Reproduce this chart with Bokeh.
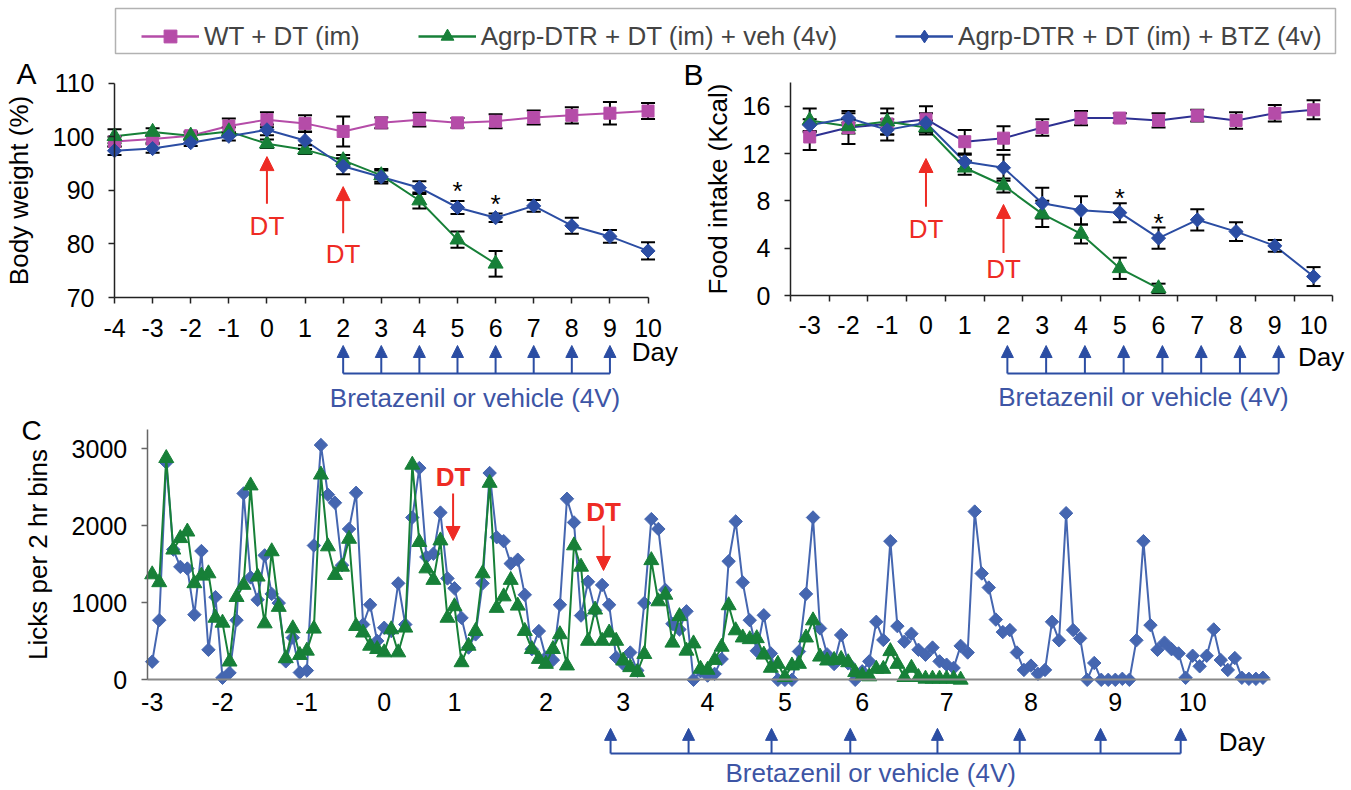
import numpy as np
from bokeh.plotting import figure
from bokeh.layouts import column, row
from bokeh.models import (Range1d, FixedTicker, Arrow, NormalHead, ColumnDataSource,
                          Legend, LegendItem, BoxAnnotation)
from bokeh.core.properties import value
from bokeh.embed import file_html
from bokeh.resources import INLINE

# ---------------- data ----------------
legend_labels = ["WT + DT (im)", "Agrp-DTR + DT (im) + veh (4v)", "Agrp-DTR + DT (im) + BTZ (4v)"]

# Panel A : body weight (%)
days_a = list(range(-4, 11))
bw_wt = [99.1, 99.6, 100.2, 102.0, 103.2, 102.5, 101.0, 102.6, 103.2, 102.6, 102.9, 103.6, 104.0, 104.4, 104.8]
bw_wt_err = [0.9, 0.7, 0.8, 1.4, 1.4, 1.5, 2.8, 1.0, 1.3, 0.9, 1.3, 1.3, 1.5, 2.1, 1.5]
days_a_veh = list(range(-4, 7))
bw_veh = [100.1, 100.9, 100.2, 101.0, 98.7, 97.6, 95.6, 92.8, 88.1, 80.8, 76.3]
bw_veh_err = [1.3, 0.7, 0.6, 0.8, 0.8, 0.8, 1.0, 1.2, 1.5, 1.5, 2.4]
bw_btz = [97.4, 97.8, 98.9, 100.1, 101.3, 99.3, 94.5, 92.5, 90.5, 86.8, 84.9, 87.1, 83.4, 81.4, 78.7]
bw_btz_err = [0.8, 0.8, 0.6, 0.8, 1.0, 1.6, 1.5, 1.2, 1.2, 1.2, 0.8, 1.1, 1.5, 1.2, 1.6]

# Panel B : food intake (Kcal)
days_b = list(range(-3, 11))
fi_wt = [13.4, 14.2, 14.5, 14.9, 13.0, 13.3, 14.2, 15.0, 15.0, 14.8, 15.2, 14.8, 15.4, 15.7]
fi_wt_err = [1.1, 1.4, 0.9, 1.1, 1.0, 1.0, 0.7, 0.6, 0.4, 0.6, 0.5, 0.7, 0.7, 0.8]
days_b_veh = list(range(-3, 7))
fi_veh = [14.8, 14.3, 14.7, 14.2, 10.8, 9.3, 6.9, 5.2, 2.3, 0.6]
fi_veh_err = [1.0, 0.6, 1.1, 0.6, 0.6, 0.6, 1.1, 0.8, 0.9, 0.4]
fi_btz = [14.4, 15.0, 14.0, 14.6, 11.3, 10.8, 7.8, 7.2, 7.0, 4.85, 6.4, 5.4, 4.2, 1.6]
fi_btz_err = [0.5, 0.4, 0.9, 0.8, 0.6, 1.1, 1.3, 1.2, 0.8, 0.9, 0.9, 0.8, 0.5, 0.8]

dt_days = [0, 2]
inject_days = [2, 3, 4, 5, 6, 7, 8, 9]
sig_days = [5, 6]

# Panel C : licks per 2 hr bin (consecutive bins)
licks_btz = [235, 773, 2818, 1690, 1465, 1443, 845, 1670, 389, 1072, 26, 90, 773, 2417, 1328,
             1038, 1614, 1114, 995, 239, 547, 94, 120, 1742, 3045,
             2400, 2296, 1486, 1956, 2425, 717, 973, 504, 675, 632, 1251, 717, 2105, 2746, 1593,
             1635, 2169, 1315, 1187, 803, 418, 589, 1251, 2682, 1849, 1798, 1507, 1558,
             1102, 397, 632, 290, 256, 973, 2348, 2041, 833, 1272, 900, 1230, 973, 290, 205,
             354, 120, 995, 2084, 1956, 1166, 726, 653, 888, 0,
             110, 55, 77, 269, 1537, 2054, 1264, 773, 376, 837, 342, 0, 0, 0, 367, 1114, 2105,
             666, 330, 205, 581, 213, 0, 110, 239, 752, 517,
             1798, 696, 495, 598, 389, 325, 418, 239, 196, 154, 440,
             354, 2182, 1379, 1196, 781, 619, 645, 354, 128, 184, 77, 128, 752, 512, 2161, 645,
             538, 0, 218, 0, 0, 0, 13, 0, 512, 1798, 709, 389, 482, 397, 342, 26, 312, 175, 312,
             653, 256, 128, 282, 26, 13, 13, 26]
licks_veh = [1366, 1264, 2874, 1687, 1836, 1921, 1251, 1349, 1379, 803, 739, 235, 1072, 1230,
             2519, 1337, 730, 1665, 944, 278, 666, 320, 376, 662, 2660,
             1729, 1358, 1465, 1827, 696, 611, 440, 397, 354, 653, 354, 675, 2788, 1785, 1443,
             1294, 1806, 803, 952, 226, 440, 632, 1379, 2553, 931, 1080, 1294, 960,
             632, 397, 269, 205, 397, 589, 184, 1742, 1465, 504, 909, 504, 611, 504, 248, 162,
             98, 333, 1550, 1016, 1102, 480, 824, 376, 470,
             141, 128, 256, 427, 965, 640, 547, 525, 538, 325, 154, 205, 34, 184, 205, 547, 769,
             299, 248, 256, 269, 226, 98, 55, 43, 141, 140,
             370, 205, 34, 154, 34, 13, 13, 13, 13, 13, 0]
c_day_labels = [-3, -2, -1, 0, 1, 2, 3, 4, 5, 6, 7, 8, 9, 10]
c_day_bins = [0, 10, 22, 33, 43, 56, 67, 79, 90, 101, 113, 125, 137, 148]
c_dt_bins = [42.8, 64.2]
c_inject_bins = [65.2, 76.3, 88.1, 99.3, 111.7, 123.4, 134.9, 146.3]

# ---------------- style ----------------
FONT = "Liberation Sans"
MAG = "#B54CA8"
GREEN = "#178038"
BLUE = "#2B4DA3"
BLUE_C = "#4566B0"
NAVY = "#2E3192"
RED = "#EE2B24"
BTZ_TXT = "#3D55A5"


def lin_range(v0, p0, ppu, lo, hi):
    return (v0 + (lo - p0) / ppu, v0 + (hi - p0) / ppu)


def inv_range(v0, p0, ppu, lo, hi):
    return (v0 - (hi - p0) / ppu, v0 - (lo - p0) / ppu)


def base_fig(w, h, xr, yr):
    p = figure(width=w, height=h, x_range=Range1d(*xr), y_range=Range1d(*yr),
               output_backend="svg", toolbar_location=None, min_border=0)
    p.xgrid.visible = False
    p.ygrid.visible = False
    p.outline_line_color = None
    for ax in p.axis:
        ax.major_label_text_font = FONT
        ax.major_label_text_font_size = "25px"
        ax.major_label_text_color = "black"
        ax.axis_label_text_font = FONT
        ax.axis_label_text_font_size = "26px"
        ax.axis_label_text_font_style = "normal"
        ax.axis_label_text_color = "black"
        ax.minor_tick_line_color = None
        ax.major_tick_in = 0
        ax.major_tick_out = 6
        ax.axis_line_width = 1.5
        ax.major_tick_line_width = 1.5
        ax.axis_line_color = "#222222"
        ax.major_tick_line_color = "#222222"
    return p


def txt(p, x, y, t, size="26px", color="black", align="center", baseline="middle", style="normal"):
    p.text(x=[x], y=[y], text=[t], text_font=value(FONT), text_font_size=size,
           text_color=color, text_align=align, text_baseline=baseline, text_font_style=style)


def errbars(p, x, y, e):
    lo = [a - b for a, b in zip(y, e)]
    hi = [a + b for a, b in zip(y, e)]
    p.segment(x0=x, y0=lo, x1=x, y1=hi, line_color="black", line_width=2)
    p.scatter(x=x, y=hi, marker="dash", size=14, line_color="black", line_width=2)
    p.scatter(x=x, y=lo, marker="dash", size=14, line_color="black", line_width=2)


def markers(p, x, y, kind, color, size):
    if kind == "diamond":
        return p.scatter(x=x, y=y, marker="square", angle=np.pi / 4, size=size,
                         fill_color=color, line_color=color)
    return p.scatter(x=x, y=y, marker=kind, size=size, fill_color=color, line_color=color)


def up_arrows(p, xs, y0, y1, color, size, width=2):
    src = ColumnDataSource(dict(x=list(xs), y0=[y0] * len(xs), y1=[y1] * len(xs)))
    p.add_layout(Arrow(end=NormalHead(size=size, fill_color=color, line_color=color, line_width=1),
                       x_start="x", y_start="y0", x_end="x", y_end="y1", source=src,
                       line_color=color, line_width=width))


W = 1351
H_LEG, H_AB, H_C = 56, 356, 378
X_SPLIT = 678

# ---------------- legend strip ----------------
pl = figure(width=W, height=H_LEG, x_range=Range1d(0, W), y_range=Range1d(0, H_LEG),
            output_backend="svg", toolbar_location=None, min_border=0,
            x_axis_type=None, y_axis_type=None)
pl.xgrid.visible = False
pl.ygrid.visible = False
pl.outline_line_color = None
items = []
nan = [float("nan")]
for lab, col, mk, sz in zip(legend_labels, [MAG, GREEN, BLUE], ["square", "triangle", "diamond"], [12, 14, 16]):
    rl = pl.line(x=nan, y=nan, line_color=col, line_width=2.5)
    rs = pl.scatter(x=nan, y=nan, marker=mk, size=sz, fill_color=col, line_color=col)
    items.append(LegendItem(label=lab, renderers=[rl, rs]))
leg = Legend(items=items, orientation="horizontal", location=(141, 4), padding=4, spacing=58,
             glyph_width=58, glyph_height=32, label_standoff=5, label_text_font=FONT,
             label_text_font_size="26px", border_line_color=None, background_fill_alpha=0, margin=0)
pl.add_layout(leg)
pl.add_layout(BoxAnnotation(left=115, right=1335, bottom=H_LEG - 53, top=H_LEG - 8,
                            fill_color=None, fill_alpha=0, line_color="black", line_width=1.5))

# ---------------- panel A ----------------
top_ab = H_LEG
bot_ab = H_LEG + H_AB
pa = base_fig(X_SPLIT, H_AB, lin_range(-4, 114, 38.11, 0, X_SPLIT),
              inv_range(110, 82.7, 5.358, top_ab, bot_ab))
ya = pa.yaxis[0]
ya.fixed_location = -4
ya.bounds = (70, 110)
ya.ticker = FixedTicker(ticks=[70, 80, 90, 100, 110])
ya.major_label_standoff = 14
ya.axis_label = "Body weight (%)"
ya.axis_label_standoff = 16
xa = pa.xaxis[0]
xa.fixed_location = 70
xa.bounds = (-4, 10)
xa.ticker = FixedTicker(ticks=days_a)
xa.major_label_overrides = {d: str(d) for d in days_a}
xa.major_label_standoff = 15

pa.line(days_a, bw_wt, line_color=MAG, line_width=2)
pa.line(days_a_veh, bw_veh, line_color=GREEN, line_width=2)
pa.line(days_a, bw_btz, line_color=BLUE, line_width=2)
errbars(pa, days_a, bw_wt, bw_wt_err)
errbars(pa, days_a_veh, bw_veh, bw_veh_err)
errbars(pa, days_a, bw_btz, bw_btz_err)
markers(pa, days_a, bw_wt, "square", MAG, 12)
markers(pa, days_a_veh, bw_veh, "triangle", GREEN, 15)
markers(pa, days_a, bw_btz, "diamond", BLUE, 10)

for d in sig_days:
    i = days_a.index(d)
    txt(pa, d, bw_btz[i] + bw_btz_err[i] + 1.8, "*")

up_arrows(pa, [dt_days[0]], 87.5, 96.3, RED, 14)
up_arrows(pa, [dt_days[1]], 82.0, 90.7, RED, 14)
txt(pa, dt_days[0], 83.3, "DT", color=RED)
txt(pa, dt_days[1], 78.2, "DT", color=RED)

up_arrows(pa, inject_days, 55.8, 61.05, BLUE, 12)
pa.line([min(inject_days), max(inject_days)], [55.8, 55.8], line_color=BLUE, line_width=2)
txt(pa, 5.46, 51.3, "Bretazenil or vehicle (4V)", color=BTZ_TXT)
txt(pa, 9.57, 59.9, "Day", align="left")
txt(pa, -6.31, 111.8, "A", size="30px")

# ---------------- panel B ----------------
pb = base_fig(W - X_SPLIT, H_AB, lin_range(-3, 809.2, 38.76, X_SPLIT, W),
              inv_range(0, 295, 11.83, top_ab, bot_ab))
yb = pb.yaxis[0]
yb.fixed_location = -3.5
yb.bounds = (0, 18)
yb.ticker = FixedTicker(ticks=[0, 4, 8, 12, 16])
yb.major_label_standoff = 14
yb.axis_label = "Food intake (Kcal)"
yb.axis_label_standoff = 7
xb = pb.xaxis[0]
xb.fixed_location = 0
xb.bounds = (-3.5, 10.5)
xb.ticker = FixedTicker(ticks=days_b, minor_ticks=[d - 0.5 for d in days_b] + [days_b[-1] + 0.5])
xb.major_label_overrides = {d: str(d) for d in days_b}
xb.major_tick_out = 0
xb.minor_tick_out = 6
xb.minor_tick_in = 0
xb.minor_tick_line_color = "#222222"
xb.minor_tick_line_width = 1.5
xb.major_label_standoff = 14

pb.line(days_b, fi_wt, line_color=NAVY, line_width=2)
pb.line(days_b_veh, fi_veh, line_color=GREEN, line_width=2)
pb.line(days_b, fi_btz, line_color=BLUE, line_width=2)
errbars(pb, days_b, fi_wt, fi_wt_err)
errbars(pb, days_b_veh, fi_veh, fi_veh_err)
errbars(pb, days_b, fi_btz, fi_btz_err)
markers(pb, days_b, fi_wt, "square", MAG, 12)
markers(pb, days_b_veh, fi_veh, "triangle", GREEN, 15)
markers(pb, days_b, fi_btz, "diamond", BLUE, 10)

for d in sig_days:
    i = days_b.index(d)
    txt(pb, d, fi_btz[i] + fi_btz_err[i] + 0.4, "*")

up_arrows(pb, [dt_days[0]], 7.5, 11.58, RED, 14)
up_arrows(pb, [dt_days[1]], 3.6, 7.7, RED, 14)
txt(pb, dt_days[0], 5.66, "DT", color=RED)
txt(pb, dt_days[1], 2.28, "DT", color=RED)

inj_b = [d + 0.1 for d in inject_days]
up_arrows(pb, inj_b, -6.59, -4.23, BLUE, 12)
pb.line([min(inj_b), max(inj_b)], [-6.59, -6.59], line_color=BLUE, line_width=2)
txt(pb, 5.61, -8.62, "Bretazenil or vehicle (4V)", color=BTZ_TXT)
txt(pb, 9.6, -5.16, "Day", align="left")
txt(pb, -6.0, 18.68, "B", size="30px")

# ---------------- panel C ----------------
top_c = bot_ab
pc = base_fig(W, H_C, lin_range(0, 151.7, 7.03, 0, W), inv_range(0, 679.3, 0.0771, top_c, top_c + H_C))
yc = pc.yaxis[0]
yc.fixed_location = -0.71
yc.bounds = (0, 3250)
yc.ticker = FixedTicker(ticks=[0, 1000, 2000, 3000])
yc.major_label_standoff = 14
yc.axis_label = "Licks per 2 hr bins"
yc.axis_label_standoff = 16
yc.axis_line_color = "#666666"
yc.major_tick_line_color = "#666666"
xc = pc.xaxis[0]
xc.fixed_location = 0
xc.bounds = (-0.71, 159.1)
xc.ticker = FixedTicker(ticks=c_day_bins)
xc.major_label_overrides = {b: str(d) for b, d in zip(c_day_bins, c_day_labels)}
xc.major_tick_out = 0
xc.major_tick_line_color = None
xc.axis_line_color = "#888888"
xc.axis_line_width = 2
xc.major_label_standoff = 13

bins_btz = list(range(len(licks_btz)))
bins_veh = list(range(len(licks_veh)))
pc.line(bins_btz, licks_btz, line_color=BLUE_C, line_width=2)
markers(pc, bins_btz, licks_btz, "diamond", BLUE_C, 9.5)
pc.line(bins_veh, licks_veh, line_color=GREEN, line_width=2)
markers(pc, bins_veh, licks_veh, "triangle", GREEN, 15)

for b, top, tip, ty in zip(c_dt_bins, [2416, 2001], [1807, 1418], [2624, 2170]):
    src = ColumnDataSource(dict(x=[b], y0=[top], y1=[tip]))
    pc.add_layout(Arrow(end=NormalHead(size=14, fill_color=RED, line_color=RED, line_width=1),
                        x_start="x", y_start="y0", x_end="x", y_end="y1", source=src,
                        line_color=RED, line_width=2))
    txt(pc, b, ty, "DT", color=RED, style="bold")

up_arrows(pc, c_inject_bins, -955, -630, BLUE, 12)
pc.line([min(c_inject_bins), max(c_inject_bins)], [-955, -955], line_color=BLUE, line_width=2)
txt(pc, 102.2, -1214, "Bretazenil or vehicle (4V)", color=BTZ_TXT)
txt(pc, 151.7, -811, "Day", align="left")
txt(pc, -17.17, 3230, "C", size="28px")

layout = column(pl, row(pa, pb), pc)
open("out.html", "w").write(file_html(layout, INLINE))
